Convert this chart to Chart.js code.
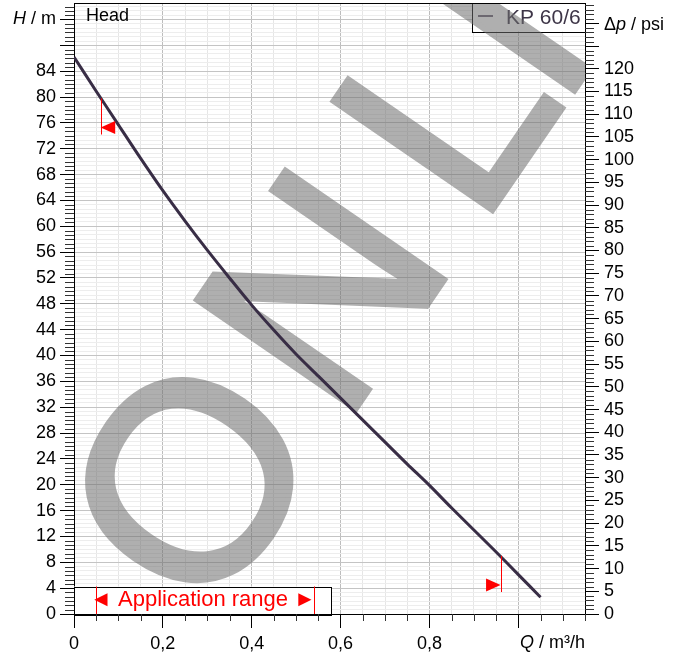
<!DOCTYPE html>
<html><head><meta charset="utf-8">
<script src="https://cdn.jsdelivr.net/npm/chart.js@4.4.0/dist/chart.umd.min.js"></script>
<style>html,body{margin:0;padding:0;background:#fff;}canvas{display:block;}</style>
</head><body>
<canvas id="c" width="677" height="656"></canvas>
<script>
// ---- data ----
const seriesName = 'KP 60/6';
const flowQ = [0, 0.05, 0.1, 0.15, 0.2, 0.25, 0.3, 0.35, 0.4, 0.45, 0.5, 0.55, 0.6, 0.65, 0.7, 0.75, 0.8, 0.85, 0.9, 0.95, 1.0, 1.05];
const headH = [86.2, 80.9, 75.7, 70.5, 65.5, 60.8, 56.3, 52.0, 47.8, 43.9, 40.2, 36.8, 33.4, 30.0, 26.6, 23.2, 19.9, 16.4, 13.0, 9.6, 6.1, 2.6];
const qLabelValues = [0, 0.2, 0.4, 0.6, 0.8];
const qLabels = ['0', '0,2', '0,4', '0,6', '0,8'];
const hLabelMax = 84;
const psiLabelMax = 120;
// application range markers on the curve
const appMarkerQ = [0.06, 0.96];
const appMarkerTopH = [79.8, 9.0];
const appMarkerBottomH = [74.2, 3.4];
const appMarkerArrowH = [75.3, 4.5];
const appMarkerDir = [-1, 1];
const watermarkLetters = ['O', 'N', 'L', 'I'];

// ---- scale constants ----
const H_MAX = 94.55, Q_MAX = 1.15, PSI_PER_M = 1.42233;
const FONT = "'Liberation Sans', Arial, sans-serif";
const CURVE = '#382d45';
function range(step, max){ const a=[]; for(let i=0; i*step<=max+1e-9; i++) a.push(+(i*step).toFixed(6)); return a; }
const isMult = (v, m) => Math.abs(v/m - Math.round(v/m)) < 1e-5;
const qTicks = range(0.05, Q_MAX);
const hTicks = range(4/6, H_MAX);
const psiTicks = range(1, H_MAX*PSI_PER_M);

function drawParts(ctx, parts, x, y, align){
  let w = 0;
  parts.forEach(p => { ctx.font = (p.it?'italic ':'') + '18px ' + FONT; p.w = ctx.measureText(p.t).width; w += p.w; });
  let cx = align === 'right' ? x - w : x;
  ctx.textAlign = 'left';
  parts.forEach(p => { ctx.font = (p.it?'italic ':'') + '18px ' + FONT; ctx.fillText(p.t, cx, y); cx += p.w; });
}
const al = v => Math.round(v) + 0.5;
const noPad = s => { s.paddingTop = 0; s.paddingBottom = 0; s.paddingLeft = 0; s.paddingRight = 0; };

const decor = {
  id: 'decor',
  beforeDatasetsDraw(chart){
    const {ctx, chartArea: a} = chart;
    ctx.save();
    // legend box
    const lx = a.right - 113, ly = a.top, lb = 31.5;
    ctx.fillStyle = '#fff';
    ctx.fillRect(lx, ly, a.right - lx, lb - ly);
    ctx.strokeStyle = '#000'; ctx.lineWidth = 1;
    ctx.strokeRect(al(lx), al(ly), Math.round(a.right - lx), Math.round(lb - ly));
    ctx.strokeStyle = CURVE; ctx.lineWidth = 1.5;
    ctx.beginPath(); ctx.moveTo(lx + 6, 16); ctx.lineTo(lx + 21, 16); ctx.stroke();
    ctx.fillStyle = '#3d3547'; ctx.font = '21px ' + FONT; ctx.textAlign = 'left'; ctx.textBaseline = 'alphabetic';
    ctx.fillText(seriesName, lx + 34, 23.5);
    ctx.restore();
    // watermark (drawn opaque offscreen, composited semi-transparent)
    const off = document.createElement('canvas');
    off.width = chart.width; off.height = chart.height;
    const o = off.getContext('2d');
    o.translate(186.5, 478);
    o.rotate(-55.5 * Math.PI / 180);
    o.font = '280px ' + FONT; o.textAlign = 'center'; o.textBaseline = 'alphabetic';
    o.fillStyle = '#6e6e6e'; o.strokeStyle = '#6e6e6e'; o.lineWidth = 6; o.lineJoin = 'miter';
    const sPos = [0, 231, 449, 552];
    watermarkLetters.forEach((L, i) => { o.fillText(L, sPos[i], 0.716 * 280 / 2); o.strokeText(L, sPos[i], 0.716 * 280 / 2); });
    ctx.save();
    ctx.beginPath(); ctx.rect(a.left, a.top, a.right - a.left, a.bottom - a.top); ctx.clip();
    ctx.globalAlpha = 0.55;
    ctx.drawImage(off, 0, 0);
    ctx.restore();
  },
  afterDatasetsDraw(chart){
    const {ctx, chartArea: a, scales: {x, y, y2}} = chart;
    ctx.save();
    // application range markers
    ctx.strokeStyle = '#ff0000'; ctx.fillStyle = '#ff0000'; ctx.lineWidth = 1;
    appMarkerQ.forEach((q, i) => {
      const px = x.getPixelForValue(q);
      ctx.beginPath(); ctx.moveTo(al(px), y.getPixelForValue(appMarkerTopH[i])); ctx.lineTo(al(px), y.getPixelForValue(appMarkerBottomH[i])); ctx.stroke();
      const py = y.getPixelForValue(appMarkerArrowH[i]);
      const bx = px - appMarkerDir[i] * 14.5;
      ctx.beginPath(); ctx.moveTo(px, py); ctx.lineTo(bx, py - 6.5); ctx.lineTo(bx, py + 6.5); ctx.closePath(); ctx.fill();
    });
    // application range legend box
    const bx0 = a.left, bx1 = 331, by0 = 586.5;
    ctx.fillStyle = '#fff'; ctx.fillRect(bx0, by0, bx1 - bx0, a.bottom - by0);
    ctx.strokeStyle = '#000'; ctx.strokeRect(al(bx0), al(by0), Math.round(bx1 - bx0), Math.round(a.bottom - by0));
    ctx.strokeStyle = '#ff0000';
    [96.5, 314.5].forEach(px => { ctx.beginPath(); ctx.moveTo(px, by0); ctx.lineTo(px, a.bottom); ctx.stroke(); });
    ctx.fillStyle = '#ff0000'; ctx.font = '22px ' + FONT; ctx.textAlign = 'center'; ctx.textBaseline = 'alphabetic';
    ctx.fillText('\u25C4 Application range \u25BA', 203, 605.5);
    // frame top
    ctx.strokeStyle = '#000'; ctx.lineWidth = 1;
    ctx.beginPath(); ctx.moveTo(a.left, al(a.top)); ctx.lineTo(a.right + 1, al(a.top)); ctx.stroke();
    // minor ticks
    ctx.strokeStyle = '#333';
    ctx.beginPath();
    qTicks.forEach(v => { if (!isMult(v, 0.2)) { const p = al(x.getPixelForValue(v)); ctx.moveTo(p, a.bottom); ctx.lineTo(p, a.bottom + 7); } });
    hTicks.forEach(v => { if (!isMult(v, 4)) { const p = al(y.getPixelForValue(v)); ctx.moveTo(a.left - 9, p); ctx.lineTo(a.left, p); } });
    psiTicks.forEach(v => { if (!isMult(v, 5)) { const p = al(y2.getPixelForValue(v)); ctx.moveTo(a.right, p); ctx.lineTo(a.right + 9, p); } });
    ctx.stroke();
    // texts
    ctx.fillStyle = '#000'; ctx.textBaseline = 'alphabetic';
    ctx.font = '18px ' + FONT; ctx.textAlign = 'left';
    ctx.fillText('Head', 86, 20.5);
    ctx.textBaseline = 'middle';
    drawParts(ctx, [{t:'H', it:true}, {t:' / m'}], a.left - 18, y.getPixelForValue(92), 'right');
    drawParts(ctx, [{t:'\u0394'}, {t:'p', it:true}, {t:' / psi'}], a.right + 19, y2.getPixelForValue(130) + 1.5, 'left');
    drawParts(ctx, [{t:'Q', it:true}, {t:' / m\u00B3/h'}], a.right, 643, 'right');
    ctx.restore();
  }
};

Chart.defaults.font.family = FONT;
new Chart(document.getElementById('c'), {
  type: 'scatter',
  data: { datasets: [{
    label: seriesName,
    data: flowQ.map((q, i) => ({x: q, y: headH[i]})),
    showLine: true, borderColor: CURVE, borderWidth: 3, pointRadius: 0, tension: 0.3,
    xAxisID: 'x', yAxisID: 'y'
  }]},
  options: {
    responsive: false, animation: false, devicePixelRatio: 1, events: [],
    layout: { padding: { top: 3, left: 0, right: 0, bottom: 0 } },
    plugins: { legend: { display: false }, tooltip: { enabled: false } },
    scales: {
      x: {
        type: 'linear', position: 'bottom', min: 0, max: Q_MAX,
        afterFit(s){ s.height = 42; noPad(s); },
        afterBuildTicks(s){ s.ticks = qTicks.map(v => ({value: v})); },
        border: { color: '#000', width: 1 },
        grid: {
          color: c => (c.tick && isMult(c.tick.value, 0.2)) ? '#bdbdbd' : '#e6e6e6',
          tickColor: c => (c.tick && isMult(c.tick.value, 0.2)) ? '#000' : 'rgba(0,0,0,0)',
          tickLength: 14
        },
        ticks: { autoSkip: false, maxRotation: 0, padding: 5, color: '#000', font: { size: 18 },
          callback: v => { const i = qLabelValues.findIndex(t => Math.abs(t - v) < 1e-6); return i >= 0 ? qLabels[i] : ''; } }
      },
      y: {
        type: 'linear', position: 'left', min: 0, max: H_MAX,
        afterFit(s){ s.width = 74; noPad(s); },
        afterBuildTicks(s){ s.ticks = hTicks.map(v => ({value: v})); },
        border: { color: '#000', width: 1 },
        grid: {
          color: c => (c.tick && isMult(c.tick.value, 4)) ? '#c4c4c4' : '#ededed',
          tickColor: c => (c.tick && isMult(c.tick.value, 4)) ? '#000' : 'rgba(0,0,0,0)',
          tickLength: 14
        },
        ticks: { autoSkip: false, padding: 4, color: '#000', font: { size: 18 },
          callback: v => (isMult(v, 4) && v <= hLabelMax + 1e-6) ? String(Math.round(v)) : '' }
      },
      y2: {
        type: 'linear', position: 'right', min: 0, max: H_MAX * PSI_PER_M,
        afterFit(s){ s.width = 92; noPad(s); },
        afterBuildTicks(s){ s.ticks = psiTicks.map(v => ({value: v})); },
        border: { color: '#000', width: 1 },
        grid: {
          drawOnChartArea: false,
          tickColor: c => (c.tick && isMult(c.tick.value, 5)) ? '#000' : 'rgba(0,0,0,0)',
          tickLength: 14
        },
        ticks: { autoSkip: false, padding: 5, color: '#000', font: { size: 18 },
          callback: v => (isMult(v, 5) && v <= psiLabelMax + 1e-6) ? String(Math.round(v)) : '' }
      }
    }
  },
  plugins: [decor]
});
</script>
</body></html>
